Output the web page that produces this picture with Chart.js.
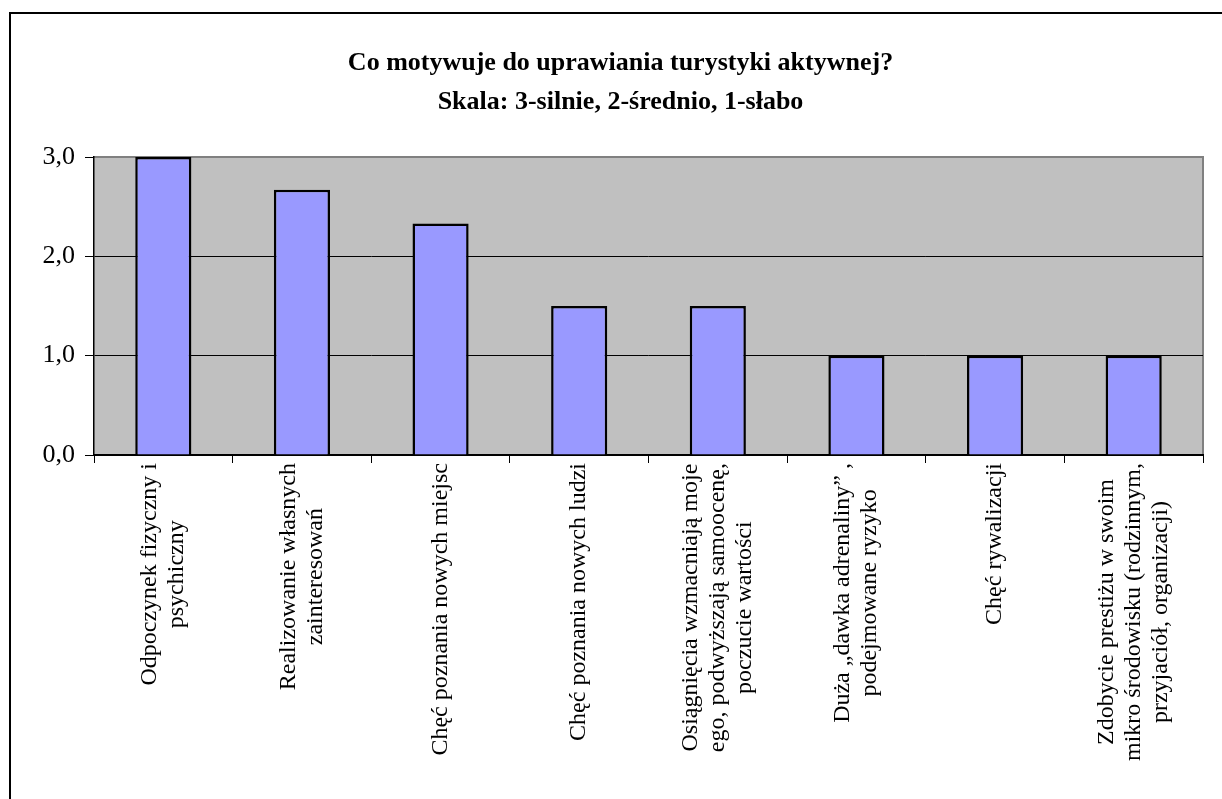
<!DOCTYPE html>
<html>
<head>
<meta charset="utf-8">
<script src="https://cdn.jsdelivr.net/npm/chart.js@4/dist/chart.umd.min.js"></script>
<style>
  html, body { margin: 0; padding: 0; background: #ffffff; }
  #frame { position: absolute; left: 9px; top: 12px; width: 1400px; height: 1000px; border: 2px solid #000; box-sizing: border-box; }
  #c { position: absolute; left: 0; top: 0; }
</style>
</head>
<body>
<div id="frame"></div>
<canvas id="c" width="1222" height="799"></canvas>
<script>
const titleLines = ['Co motywuje do uprawiania turystyki aktywnej?', 'Skala: 3-silnie, 2-średnio, 1-słabo'];
const categories = [
  ['Odpoczynek fizyczny i', 'psychiczny'],
  ['Realizowanie własnych', 'zainteresowań'],
  ['Chęć poznania nowych miejsc'],
  ['Chęć poznania nowych ludzi'],
  ['Osiągnięcia wzmacniają moje', 'ego, podwyższają samoocenę,', 'poczucie wartości'],
  ['Duża „dawka adrenaliny” ,', 'podejmowane ryzyko'],
  ['Chęć rywalizacji'],
  ['Zdobycie prestiżu w swoim', 'mikro środowisku (rodzinnym,', 'przyjaciół, organizacji)']
];
const values = [3.0, 2.67, 2.33, 1.5, 1.5, 1.0, 1.0, 1.0];
const yTicks = [0, 1, 2, 3];

Chart.defaults.font.family = '"Liberation Serif", "Times New Roman", serif';
Chart.defaults.color = '#000';

const plotBg = {
  id: 'plotBg',
  beforeDraw(chart) {
    const {ctx, chartArea: a} = chart;
    ctx.save();
    ctx.fillStyle = '#C0C0C0';
    ctx.fillRect(a.left, a.top, a.right - a.left, a.bottom - a.top);
    ctx.strokeStyle = '#808080';
    ctx.lineWidth = 2;
    ctx.beginPath();
    ctx.moveTo(a.left, a.top);
    ctx.lineTo(a.right, a.top);
    ctx.lineTo(a.right, a.bottom);
    ctx.stroke();
    ctx.restore();
  }
};

const xLabels = {
  id: 'xLabels',
  afterDraw(chart) {
    const {ctx} = chart;
    const xs = chart.scales.x;
    const lh = 27, pad = 8;
    ctx.save();
    ctx.font = '24px "Liberation Serif", "Times New Roman", serif';
    ctx.fillStyle = '#000';
    ctx.textAlign = 'center';
    ctx.textBaseline = 'middle';
    categories.forEach((lines, i) => {
      const x = xs.getPixelForValue(i);
      const w = Math.max(...lines.map(l => ctx.measureText(l).width));
      ctx.save();
      ctx.translate(x, xs.top);
      ctx.rotate(-Math.PI / 2);
      const n = lines.length;
      lines.forEach((l, j) => {
        ctx.fillText(l, -(pad + w / 2), (j - (n - 1) / 2) * lh);
      });
      ctx.restore();
    });
    ctx.restore();
  }
};

new Chart(document.getElementById('c'), {
  type: 'bar',
  data: {
    labels: categories,
    datasets: [{
      data: values,
      backgroundColor: '#9999FF',
      borderColor: '#000',
      borderWidth: 2.5,
      barPercentage: 0.405,
      categoryPercentage: 1.0
    }]
  },
  options: {
    responsive: false,
    animation: false,
    devicePixelRatio: 1,
    layout: { padding: { left: 38, right: 19, top: 0, bottom: 0 } },
    plugins: {
      legend: { display: false },
      tooltip: { enabled: false },
      title: {
        display: true,
        text: titleLines,
        color: '#000',
        font: { size: 26, weight: 'bold', lineHeight: 1.5 },
        padding: { top: 44, bottom: 35 }
      }
    },
    scales: {
      x: {
        ticks: { display: false },
        grid: { drawOnChartArea: false, drawTicks: true, tickLength: 8, color: '#000', tickColor: '#000', tickWidth: 1 },
        border: { display: true, color: '#000', width: 2 },
        afterFit(s) { s.height = 344; }
      },
      y: {
        min: 0,
        max: 3,
        afterBuildTicks(s) { s.ticks = yTicks.map(v => ({ value: v })); },
        ticks: {
          padding: 10,
          font: { size: 26 },
          color: '#000',
          callback: v => v.toFixed(1).replace('.', ',')
        },
        grid: {
          color: ctx => (ctx.tick && ctx.tick.value === 3) ? '#808080' : '#000',
          tickColor: '#000',
          tickLength: 9,
          lineWidth: 1
        },
        border: { display: true, color: '#000', width: 1.5 },
        afterFit(s) { s.width = 56; }
      }
    }
  },
  plugins: [plotBg, xLabels]
});
</script>
</body>
</html>
